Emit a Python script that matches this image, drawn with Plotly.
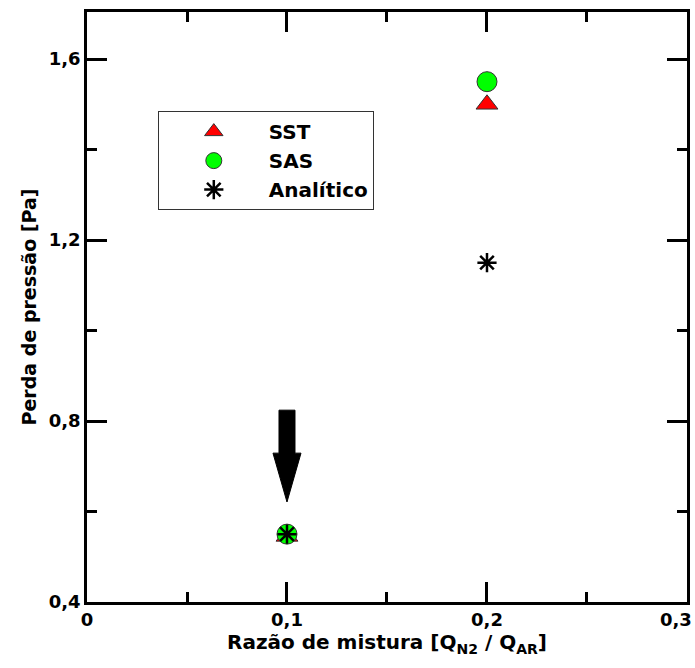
import plotly.graph_objects as go

x_vals = [0.1, 0.2]
sst = [0.545, 1.50]
sas = [0.55, 1.55]
analitico = [0.55, 1.15]
x_ticks = [0, 0.1, 0.2, 0.3]
x_ticktext = ["0", "0,1", "0,2", "0,3"]

FONT = "DejaVu Sans"
TICKFONT = dict(family=FONT, size=18, color="black", weight="bold")

fig = go.Figure()
fig.add_trace(go.Scatter(x=x_vals, y=sst, mode="markers", name="SST",
                         marker=dict(symbol="triangle-up", size=19, color="#ff0000",
                                     line=dict(color="#333333", width=1))))
fig.add_trace(go.Scatter(x=x_vals, y=sas, mode="markers", name="SAS",
                         marker=dict(symbol="circle", size=20, color="#00ff00",
                                     line=dict(color="#333333", width=1))))
fig.add_trace(go.Scatter(x=x_vals, y=analitico, mode="markers", name="Analítico",
                         marker=dict(symbol="asterisk-open", size=16, color="black",
                                     line=dict(color="black", width=2.5))))

# arrow pointing to x = 0.1 low point
ax = 0.1
fig.add_shape(type="path",
              path=(f"M {ax-0.004},0.824 L {ax+0.004},0.824 L {ax+0.004},0.729 "
                    f"L {ax+0.007},0.729 L {ax},0.621 L {ax-0.007},0.729 L {ax-0.004},0.729 Z"),
              xref="x", yref="y", fillcolor="black", line=dict(color="black", width=1))

axis_common = dict(showline=True, linecolor="black", linewidth=2.5, mirror="ticks",
                   ticks="inside", ticklen=20, tickwidth=2.5, tickcolor="black",
                   showgrid=False, zeroline=False,
                   automargin=False, tickfont=TICKFONT)

# last x tick label is drawn as annotation so it stays inside the page
fig.update_xaxes(range=[0, 0.30001], tickvals=x_ticks[:-1], ticktext=x_ticktext[:-1],
                 minor=dict(ticks="inside", ticklen=10, tickwidth=2.5, tickcolor="black",
                            tickvals=[0.05, 0.15, 0.25], showgrid=False),
                 title=dict(text="Razão de mistura [Q<sub>N2</sub> / Q<sub>AR</sub>]",
                            font=dict(family=FONT, size=20, color="black", weight="bold"), standoff=6),
                 **axis_common)
fig.add_annotation(x=x_ticks[-1], y=0, xref="x", yref="paper", text=x_ticktext[-1],
                   showarrow=False, xanchor="right", yanchor="top", xshift=7, yshift=-5,
                   font=TICKFONT)
fig.update_yaxes(range=[0.4, 1.704], dtick=0.4, tick0=0.4,
                 minor=dict(ticks="inside", ticklen=10, tickwidth=2.5, tickcolor="black", dtick=0.2, showgrid=False),
                 title=dict(text="Perda de pressão [Pa]",
                            font=dict(family=FONT, size=19, color="black", weight="bold"), standoff=8),
                 **axis_common)

fig.update_layout(
    width=695, height=668,
    margin=dict(l=87, r=8, t=12, b=66),
    paper_bgcolor="white", plot_bgcolor="white",
    separators=",.",
    legend=dict(x=0.118, y=0.832, xanchor="left", yanchor="top",
                bordercolor="#333333", borderwidth=1, bgcolor="white",
                itemwidth=100, tracegroupgap=0,
                font=dict(family=FONT, size=20, color="black", weight="bold")),
)

fig.write_html("out.html")
